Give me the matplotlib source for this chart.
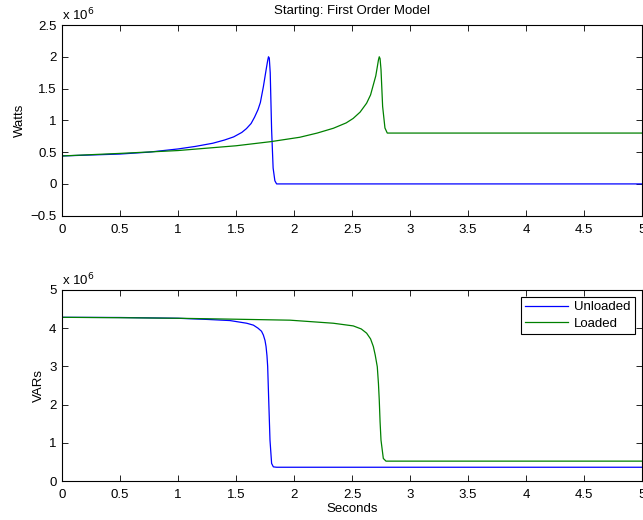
import matplotlib
matplotlib.use("Agg")
import matplotlib.pyplot as plt
import numpy as np

plt.rcParams['font.family'] = ['Liberation Sans', 'DejaVu Sans']
plt.rcParams['font.size'] = 9.5

# Watts (x 10^6), unloaded
t_w_unl = [0, 0.25, 0.5, 0.75, 1.0, 1.15, 1.3, 1.4, 1.48, 1.55, 1.59, 1.63, 1.66, 1.69,
           1.71, 1.736, 1.76, 1.772, 1.78, 1.787, 1.795, 1.807, 1.82, 1.835, 1.85, 1.9, 5.0]
w_unl = [0.44, 0.455, 0.47, 0.50, 0.55, 0.59, 0.64, 0.69, 0.74, 0.81, 0.87, 0.95, 1.05, 1.17,
         1.28, 1.53, 1.80, 1.93, 2.0, 1.98, 1.75, 0.85, 0.25, 0.05, 0.0, 0.0, 0.0]

# Watts (x 10^6), loaded
t_w_ld = [0, 0.5, 1.0, 1.5, 1.8, 2.05, 2.2, 2.34, 2.45, 2.51, 2.57, 2.626, 2.66, 2.684,
          2.705, 2.718, 2.728, 2.735, 2.742, 2.75, 2.764, 2.784, 2.804, 2.85, 5.0]
w_ld = [0.44, 0.48, 0.525, 0.60, 0.665, 0.734, 0.80, 0.876, 0.96, 1.03, 1.13, 1.27, 1.40, 1.56,
        1.70, 1.84, 1.95, 2.0, 1.97, 1.8, 1.22, 0.88, 0.80, 0.80, 0.80]

# VARs (x 10^6), unloaded
t_v_unl = [0, 0.5, 1.0, 1.25, 1.448, 1.592, 1.65, 1.69, 1.72, 1.736, 1.75, 1.759, 1.767,
           1.773, 1.782, 1.793, 1.807, 1.822, 1.85, 5.0]
v_unl = [4.285, 4.28, 4.26, 4.23, 4.20, 4.13, 4.08, 4.0, 3.92, 3.82, 3.68, 3.52, 3.28,
         3.0, 2.12, 1.07, 0.46, 0.37, 0.36, 0.36]

# VARs (x 10^6), loaded
t_v_ld = [0, 0.5, 1.0, 1.5, 1.966, 2.339, 2.511, 2.58, 2.626, 2.66, 2.684, 2.70, 2.718,
          2.728, 2.735, 2.742, 2.75, 2.77, 2.793, 2.85, 5.0]
v_ld = [4.285, 4.275, 4.26, 4.235, 4.21, 4.13, 4.06, 3.98, 3.87, 3.72, 3.52, 3.30, 2.99,
        2.55, 2.12, 1.55, 1.07, 0.59, 0.52, 0.52, 0.52]

labels = ['Unloaded', 'Loaded']
c_blue = (0, 0, 1)
c_green = (0, 0.5, 0)

fig = plt.figure(figsize=(6.43, 5.2), dpi=100)
ax1 = fig.add_axes([62/643, 1-215.7/520, 580/643, 190.7/520])
ax2 = fig.add_axes([62/643, 1-481/520, 580/643, 191/520])

def style(ax):
    ax.tick_params(direction='in', top=True, right=True, length=4, width=0.6, labelsize=9.5)
    ax.tick_params(axis='x', pad=6)
    ax.tick_params(axis='y', pad=4)
    for s in ax.spines.values():
        s.set_linewidth(0.8)
    ax.set_xlim(0, 5)
    ax.set_xticks(np.arange(0, 5.01, 0.5))
    ax.set_xticklabels(['0', '0.5', '1', '1.5', '2', '2.5', '3', '3.5', '4', '4.5', '5'])

ax1.plot(t_w_unl, w_unl, color=c_blue, lw=0.9)
ax1.plot(t_w_ld, w_ld, color=c_green, lw=0.9)
style(ax1)
ax1.set_ylim(-0.5, 2.5)
ax1.set_yticks(np.arange(-0.5, 2.51, 0.5))
ax1.set_yticklabels(['\u22120.5', '0', '0.5', '1', '1.5', '2', '2.5'])
ax1.set_ylabel('Watts', labelpad=3)
ax1.set_title('Starting: First Order Model', fontsize=9.5, pad=8)
ax1.text(0, 1.01, r'x 10$^6$', transform=ax1.transAxes, fontsize=9.5, va='bottom', ha='left')

ax2.plot(t_v_unl, v_unl, color=c_blue, lw=0.9, label=labels[0])
ax2.plot(t_v_ld, v_ld, color=c_green, lw=0.9, label=labels[1])
style(ax2)
ax2.set_ylim(0, 5)
ax2.set_yticks(np.arange(0, 5.1, 1))
ax2.set_yticklabels(['0', '1', '2', '3', '4', '5'])
ax2.set_ylabel('VARs', labelpad=3)
ax2.set_xlabel('Seconds', labelpad=1)
ax2.text(0, 1.01, r'x 10$^6$', transform=ax2.transAxes, fontsize=9.5, va='bottom', ha='left')
leg = ax2.legend(loc='upper right', fontsize=9.5, fancybox=False, framealpha=1,
                 edgecolor='black', borderaxespad=0.5, handlelength=3.2,
                 borderpad=0.35, labelspacing=0.3, handletextpad=0.5)
leg.get_frame().set_linewidth(0.8)

fig.savefig('out.png', dpi=100)
